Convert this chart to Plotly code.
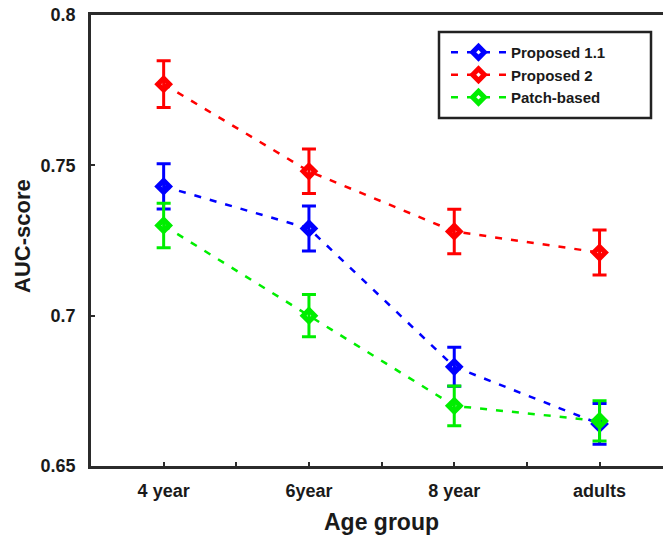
import plotly.graph_objects as go

# Age groups on the x axis
age_groups = ["4 year", "6year", "8 year", "adults"]
x_pos = [1, 2, 3, 4]

# Y tick values and labels
y_ticks = [0.65, 0.7, 0.75, 0.8]
y_tick_labels = ["0.65", "0.7", "0.75", "0.8"]

# Mean AUC per method and age group
proposed_11 = [0.743, 0.729, 0.683, 0.664]
proposed_2 = [0.777, 0.748, 0.728, 0.721]
patch_based = [0.730, 0.700, 0.670, 0.665]

# Error bar half-widths
err_proposed_11 = [0.0075, 0.0075, 0.0065, 0.0068]
err_proposed_2 = [0.0078, 0.0074, 0.0074, 0.0075]
err_patch_based = [0.0074, 0.0070, 0.0066, 0.0067]

series = [
    ("Proposed 1.1", proposed_11, err_proposed_11, "#0000ff"),
    ("Proposed 2", proposed_2, err_proposed_2, "#ff0000"),
    ("Patch-based", patch_based, err_patch_based, "#00ee00"),
]

W, H = 663, 536
M_L, M_R, M_T, M_B = 91, 0, 15, 70
PW, PH = W - M_L - M_R, H - M_T - M_B


def px_x(px):
    return (px - M_L) / PW


def px_y(py):
    return 1 - (py - M_T) / PH


fig = go.Figure()
for name, vals, errs, color in series:
    fig.add_trace(go.Scatter(
        x=x_pos, y=vals, name=f"<b>{name}</b>", mode="lines+markers",
        line=dict(color=color, width=2.5, dash="7px,9px"),
        marker=dict(symbol="diamond-open", size=9, color=color,
                    line=dict(width=5, color=color)),
        error_y=dict(type="data", array=errs, visible=True,
                     color=color, thickness=3, width=7),
    ))

font_main = "Liberation Sans, Arial, sans-serif"
text_color = "#1a1a1a"
axis_color = "#2b2b2b"

fig.update_layout(
    width=W, height=H,
    margin=dict(l=M_L, r=M_R, t=M_T, b=M_B),
    paper_bgcolor="white", plot_bgcolor="white",
    font=dict(family=font_main, color=text_color),
    showlegend=True,
    legend=dict(
        x=px_x(446), y=px_y(36), xanchor="left", yanchor="top",
        bgcolor="rgba(0,0,0,0)", borderwidth=0,
        font=dict(family=font_main, size=15, color=text_color),
        itemwidth=55, tracegroupgap=0,
    ),
    xaxis=dict(
        range=[0.5, 0.5 + PW / 145.3],
        tickvals=x_pos, ticktext=[f"<b>{t}</b>" for t in age_groups],
        ticks="inside", ticklen=4, tickwidth=2, tickcolor=axis_color,
        minor=dict(tickvals=[1.5, 2.5, 3.5], ticks="inside", ticklen=4,
                   tickwidth=2, tickcolor=axis_color),
        showline=True, linecolor=axis_color, linewidth=2.5, mirror=True,
        showgrid=False, zeroline=False, ticklabelstandoff=7,
        tickfont=dict(family=font_main, size=18, color=text_color),
    ),
    yaxis=dict(
        range=[0.65, 0.8],
        tickvals=y_ticks, ticktext=[f"<b>{t}</b>" for t in y_tick_labels],
        ticks="inside", ticklen=4, tickwidth=2, tickcolor=axis_color,
        showline=True, linecolor=axis_color, linewidth=2.5, mirror=False,
        showgrid=False, zeroline=False, ticklabelstandoff=9,
        tickfont=dict(family=font_main, size=18, color=text_color),
    ),
    shapes=[
        # legend frame
        dict(type="rect", xref="paper", yref="paper",
             x0=px_x(439), x1=px_x(651), y0=px_y(118), y1=px_y(32),
             line=dict(color="#222222", width=2.5), fillcolor="rgba(0,0,0,0)",
             layer="above"),
    ],
    annotations=[
        dict(text="<b>Age group</b>", x=2.5, xref="x", y=px_y(522), yref="paper",
             yanchor="middle", showarrow=False,
             font=dict(family=font_main, size=23, color=text_color)),
        dict(text="<b>AUC-score</b>", textangle=-90, x=px_x(22), xref="paper",
             y=px_y(236), yref="paper", xanchor="center", yanchor="middle",
             showarrow=False,
             font=dict(family=font_main, size=22, color=text_color)),
    ],
)

fig.write_html("out.html")
